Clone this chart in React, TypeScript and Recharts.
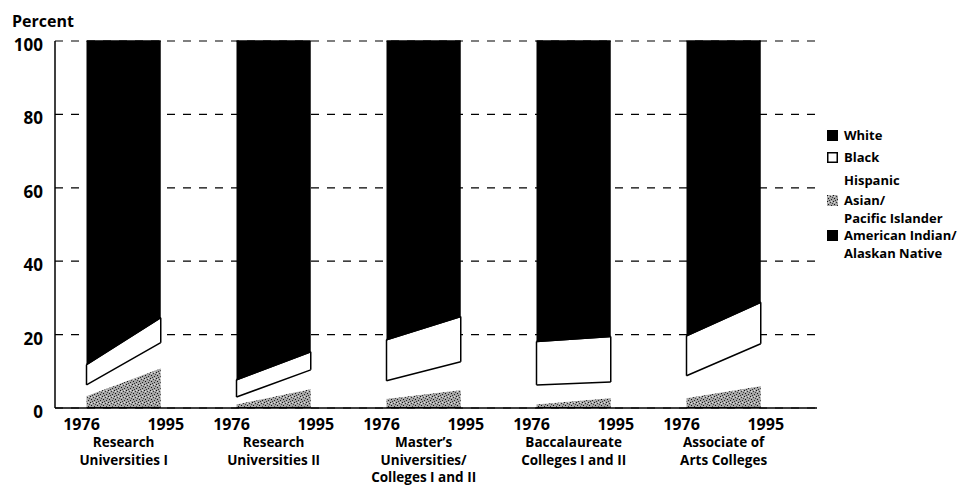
import React from "react";
import { AreaChart, Area, XAxis, YAxis, CartesianGrid, ReferenceLine } from "recharts";

const FONT = '"Open Sans", sans-serif';

const groups = [
  ["Research", "Universities I"],
  ["Research", "Universities II"],
  ["Master\u2019s", "Universities/", "Colleges I and II"],
  ["Baccalaureate", "Colleges I and II"],
  ["Associate of", "Arts Colleges"],
];
const years = ["1976", "1995"];

// percent in each group, [1976, 1995]
const americanIndian = [[0.3, 0.4], [0.3, 0.4], [0.3, 0.4], [0.3, 0.4], [0.3, 0.4]];
const asian = [[3.0, 10.4], [0.7, 4.8], [2.2, 4.5], [0.7, 2.3], [2.4, 5.6]];
const hispanic = [[3.0, 7.0], [2.0, 5.2], [4.9, 7.7], [5.3, 4.4], [6.1, 11.5]];
const black = [[5.5, 6.8], [4.7, 4.9], [11.2, 12.3], [11.8, 12.4], [10.9, 11.3]];
const white = [[88.2, 75.4], [92.3, 84.7], [81.4, 75.1], [81.9, 80.5], [80.3, 71.2]];

const yTicks = [0, 20, 40, 60, 80, 100];

// where the groups sit on the numeric x axis
const X_START = 0.42;
const X_STEP = 2;
const X_WIDTH = 0.99;
const X_MAX = 10.16;

const series = [
  { key: "amInd", values: americanIndian, fill: "#000", stroke: "none" },
  { key: "asian", values: asian, fill: "url(#stipple)", stroke: "none" },
  { key: "hispanic", values: hispanic, fill: "#fff", stroke: "none" },
  { key: "black", values: black, fill: "#fff", stroke: "#000" },
  { key: "white", values: white, fill: "#000", stroke: "#000" },
];

const xAt = (gi: number, yi: number) => X_START + gi * X_STEP + yi * X_WIDTH;

const rows: any[] = [];
groups.forEach((_, gi) => {
  [0, 1].forEach((yi) => {
    const row: any = { x: xAt(gi, yi) };
    let base = 0;
    series.forEach((s) => {
      const v = s.values[gi][yi];
      row[s.key] = [base, base + v];
      base += v;
    });
    rows.push(row);
  });
  if (gi < groups.length - 1) {
    const gap: any = { x: xAt(gi, 1) + 0.5 };
    series.forEach((s) => (gap[s.key] = [null, null]));
    rows.push(gap);
  }
});
const edgeRows = rows.filter((r) => r.black[0] != null);

const yearTicks = groups.flatMap((_, gi) => [xAt(gi, 0), xAt(gi, 1)]);
const groupTicks = groups.map((_, gi) => xAt(gi, 0) + X_WIDTH / 2);

const YearTick = (props: any) => {
  const { x, y, index } = props;
  const i = index % 2;
  return (
    <text x={x + (i === 0 ? -5 : 5)} y={y} dy={14} textAnchor="middle" fontSize={16} fontWeight={700} fill="#000" fontFamily={FONT}>
      {years[i]}
    </text>
  );
};

const GroupTick = (props: any) => {
  const { x, y, index } = props;
  return (
    <g>
      {groups[index].map((line, li) => (
        <text key={li} x={x} y={y + 9 + li * 17.5} textAnchor="middle" fontSize={13.5} fontWeight={700} fill="#000" fontFamily={FONT}>
          {line}
        </text>
      ))}
    </g>
  );
};

const PercentTick = (props: any) => {
  const { x, y, payload } = props;
  return (
    <text x={x} y={y} dy={10} textAnchor="end" fontSize={17} fontWeight={700} fill="#000" fontFamily={FONT}>
      {payload.value}
    </text>
  );
};

const legendItems = [
  { lines: ["White"], marker: "solid", top: 126 },
  { lines: ["Black"], marker: "outline", top: 148 },
  { lines: ["Hispanic"], marker: "none", top: 171 },
  { lines: ["Asian/", "Pacific Islander"], marker: "pattern", top: 191 },
  { lines: ["American Indian/", "Alaskan Native"], marker: "solid", top: 226 },
];

const Marker = ({ kind }: { kind: string }) => {
  if (kind === "none") return null;
  return (
    <svg width={11} height={11} style={{ position: "absolute", left: 0, top: 4 }}>
      {kind === "solid" && <rect x={0} y={0} width={11} height={11} fill="#000" />}
      {kind === "outline" && <rect x={0.75} y={0.75} width={9.5} height={9.5} fill="#fff" stroke="#000" strokeWidth={1.5} />}
      {kind === "pattern" && <rect x={0} y={0} width={11} height={11} fill="url(#stipple)" />}
    </svg>
  );
};

export default function App() {
  return (
    <div style={{ position: "absolute", left: 0, top: 0, width: 971, height: 487, background: "#fff", fontFamily: FONT }}>
      <div style={{ position: "absolute", left: 12, top: 10, fontSize: 16, fontWeight: 700, color: "#000" }}>Percent</div>
      <AreaChart width={971} height={487} data={rows} margin={{ top: 41, right: 154, bottom: 2, left: 0 }}>
        <defs>
          <pattern id="stipple" width={6} height={6} patternUnits="userSpaceOnUse">
            <rect x={0} y={0} width={6} height={6} fill="#a6a6a6" />
            <rect x={0} y={0} width={1} height={1} fill="#111" />
            <rect x={3} y={1} width={1} height={1} fill="#333" />
            <rect x={1} y={3} width={1} height={1} fill="#111" />
            <rect x={4} y={4} width={1} height={1} fill="#222" />
            <rect x={5} y={2} width={1} height={1} fill="#444" />
            <rect x={2} y={5} width={1} height={1} fill="#333" />
            <rect x={4} y={0} width={1} height={1} fill="#ddd" />
            <rect x={1} y={1} width={1} height={1} fill="#ddd" />
          </pattern>
        </defs>
        <CartesianGrid horizontal vertical={false} stroke="#000" strokeWidth={1.2} strokeDasharray="8 8" />
        <XAxis
          dataKey="x"
          type="number"
          domain={[0, X_MAX]}
          ticks={yearTicks}
          interval={0}
          height={22}
          axisLine={{ stroke: "#000", strokeWidth: 1.5 }}
          tickLine={false}
          tick={<YearTick />}
        />
        <XAxis
          xAxisId="grp"
          dataKey="x"
          type="number"
          domain={[0, X_MAX]}
          ticks={groupTicks}
          interval={0}
          height={55}
          axisLine={false}
          tickLine={false}
          tick={<GroupTick />}
        />
        <YAxis
          type="number"
          domain={[0, 100]}
          ticks={yTicks}
          width={55}
          axisLine={{ stroke: "#000", strokeWidth: 1.5 }}
          tickLine={false}
          tickMargin={6}
          tick={<PercentTick />}
        />
        {series.map((s) => (
          <Area
            key={s.key}
            dataKey={s.key}
            type="linear"
            fill={s.fill}
            fillOpacity={1}
            stroke={s.stroke}
            strokeWidth={1.5}
            dot={false}
            activeDot={false}
            isAnimationActive={false}
          />
        ))}
        {edgeRows.map((r, i) => (
          <ReferenceLine
            key={i}
            segment={[
              { x: r.x, y: r.black[0] },
              { x: r.x, y: r.black[1] },
            ]}
            stroke="#000"
            strokeWidth={1.5}
          />
        ))}
      </AreaChart>
      {legendItems.map((item, i) => (
        <div key={i} style={{ position: "absolute", left: 827, top: item.top, width: 144, fontSize: 13, fontWeight: 700, lineHeight: "18px", color: "#000" }}>
          <Marker kind={item.marker} />
          <div style={{ marginLeft: 17 }}>
            {item.lines.map((l, li) => (
              <div key={li}>{l}</div>
            ))}
          </div>
        </div>
      ))}
    </div>
  );
}
